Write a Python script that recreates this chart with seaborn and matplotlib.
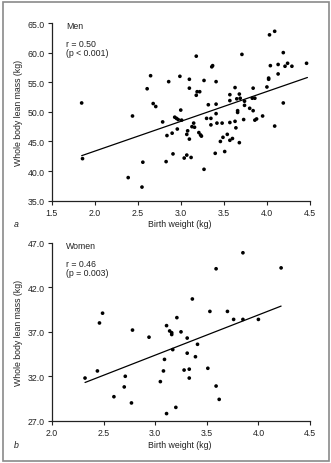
import matplotlib
matplotlib.use("Agg")
import matplotlib.pyplot as plt
import seaborn as sns
import pandas as pd
from matplotlib.patches import Rectangle

# ---- Data ----
men_birth_weight = [1.85, 1.86, 2.39, 2.44, 2.55, 2.56, 2.61, 2.65, 2.68, 2.71,
                    2.79, 2.83, 2.84, 2.86, 2.90, 2.91, 2.93, 2.95, 2.97, 2.96,
                    2.99, 3.00, 3.01, 3.04, 3.07, 3.07, 3.08, 3.10, 3.10, 3.10,
                    3.12, 3.13, 3.15, 3.16, 3.18, 3.18, 3.19, 3.22, 3.21, 3.23,
                    3.24, 3.27, 3.27, 3.30, 3.32, 3.35, 3.35, 3.36, 3.37, 3.40,
                    3.41, 3.41, 3.41, 3.42, 3.46, 3.48, 3.49, 3.51, 3.54, 3.57,
                    3.57, 3.57, 3.57, 3.60, 3.63, 3.63, 3.64, 3.65, 3.66, 3.66,
                    3.68, 3.69, 3.68, 3.71, 3.73, 3.74, 3.74, 3.80, 3.84, 3.83,
                    3.86, 3.84, 3.86, 3.88, 3.95, 4.00, 4.02, 4.02, 4.03, 4.04,
                    4.09, 4.09, 4.13, 4.13, 4.19, 4.19, 4.21, 4.24, 4.29, 4.46]
men_lean_mass = [51.5, 42.1, 38.9, 49.3, 37.3, 41.5, 53.9, 56.1, 51.4, 50.9,
                 48.3, 41.6, 46.0, 55.1, 46.4, 42.9, 49.1, 48.9, 48.7, 47.1,
                 56.0, 50.3, 48.6, 42.2, 42.7, 46.2, 46.8, 45.4, 55.5, 54.0,
                 42.3, 47.5, 48.1, 47.4, 59.4, 52.8, 53.4, 53.4, 46.5, 46.1,
                 45.9, 55.3, 40.3, 48.9, 51.2, 48.9, 47.8, 57.6, 57.8, 43.0,
                 55.1, 51.3, 49.7, 48.1, 45.0, 48.1, 45.7, 43.3, 46.2, 52.9,
                 51.9, 48.2, 45.2, 45.5, 54.1, 48.4, 47.3, 52.2, 50.2, 49.9,
                 53.0, 52.3, 44.8, 59.7, 48.7, 51.8, 51.1, 50.6, 54.0, 52.3,
                 52.3, 50.2, 48.6, 48.8, 49.3, 54.2, 55.7, 55.5, 63.0, 57.8,
                 63.6, 47.6, 56.4, 58.0, 60.0, 51.5, 57.7, 58.2, 57.7, 58.2]
men_fit_x = [1.85, 4.47]
men_fit_y = [42.6, 55.8]

women_birth_weight = [2.32, 2.44, 2.46, 2.49, 2.60, 2.70, 2.71, 2.77, 2.78, 2.94,
                      3.05, 3.08, 3.09, 3.11, 3.11, 3.14, 3.16, 3.16, 3.17, 3.20,
                      3.21, 3.25, 3.28, 3.31, 3.31, 3.33, 3.33, 3.36, 3.39, 3.41,
                      3.51, 3.53, 3.59, 3.59, 3.62, 3.70, 3.76, 3.85, 3.85, 4.00,
                      4.22]
women_lean_mass = [31.8, 32.6, 38.0, 39.1, 29.7, 30.8, 32.0, 29.0, 37.2, 36.4,
                   31.4, 32.6, 33.9, 37.7, 27.8, 37.1, 36.9, 36.7, 35.0, 28.5,
                   38.6, 37.0, 32.7, 36.3, 34.6, 32.8, 31.8, 40.7, 34.2, 35.6,
                   32.9, 39.3, 44.1, 30.9, 29.4, 39.3, 38.4, 38.4, 45.9, 38.4,
                   44.2]
women_fit_x = [2.32, 4.22]
women_fit_y = [31.3, 39.9]

men_yticks = [35.0, 40.0, 45.0, 50.0, 55.0, 60.0, 65.0]
men_xticks = [1.5, 2.0, 2.5, 3.0, 3.5, 4.0, 4.5]
women_yticks = [27.0, 32.0, 37.0, 42.0, 47.0]
women_xticks = [2.0, 2.5, 3.0, 3.5, 4.0, 4.5]

# ---- Style ----
sns.set_style("ticks")
plt.rcParams['font.family'] = ['Liberation Sans', 'DejaVu Sans']
FS = 6.3

W, H = 331, 464
fig = plt.figure(figsize=(W / 100, H / 100), dpi=100)

def px_rect(left, top, right, bottom):
    return [left / W, 1 - bottom / H, (right - left) / W, (bottom - top) / H]

ax1 = fig.add_axes(px_rect(51.5, 24, 310, 201.7))
ax2 = fig.add_axes(px_rect(52, 244, 310, 421.7))

def draw(ax, bx, ly, fx, fy, xticks, yticks, title, rtxt, ptxt):
    df = pd.DataFrame({"bw": bx, "lm": ly})
    sns.scatterplot(data=df, x="bw", y="lm", ax=ax, color="black", s=7,
                    edgecolor="none", linewidth=0)
    fit = pd.DataFrame({"bw": fx, "lm": fy})
    sns.lineplot(data=fit, x="bw", y="lm", ax=ax, color="black", linewidth=0.9)
    ax.set_xlim(xticks[0], xticks[-1])
    ax.set_ylim(yticks[0], yticks[-1])
    ax.set_xticks(xticks)
    ax.set_yticks(yticks)
    ax.set_xticklabels([f"{t:.1f}" for t in xticks])
    ax.set_yticklabels([f"{t:.1f}" for t in yticks])
    ax.set_xlabel("")
    ax.set_ylabel("")
    for s in ["top", "right"]:
        ax.spines[s].set_visible(False)
    for s in ["left", "bottom"]:
        ax.spines[s].set_linewidth(0.9)
        ax.spines[s].set_color("#222222")
    ax.tick_params(axis="both", length=3, width=0.8, pad=2, labelsize=FS,
                   colors="#222222")
    ax.text(0.056, 0.985, title, transform=ax.transAxes, fontsize=FS,
            va="center", ha="left", color="#222222")
    ax.text(0.056, 0.885, rtxt, transform=ax.transAxes, fontsize=FS,
            va="center", ha="left", color="#222222")
    ax.text(0.056, 0.835, ptxt, transform=ax.transAxes, fontsize=FS,
            va="center", ha="left", color="#222222")

draw(ax1, men_birth_weight, men_lean_mass, men_fit_x, men_fit_y,
     men_xticks, men_yticks, "Men", "r = 0.50", "(p < 0.001)")
draw(ax2, women_birth_weight, women_lean_mass, women_fit_x, women_fit_y,
     women_xticks, women_yticks, "Women", "r = 0.46", "(p = 0.003)")

def ftext(x, y, s, **kw):
    fig.text(x / W, 1 - y / H, s, fontsize=FS, color="#222222", **kw)

ftext(180, 224.7, "Birth weight (kg)", ha="center", va="center")
ftext(180, 445.3, "Birth weight (kg)", ha="center", va="center")
ftext(16, 224.7, "a", ha="center", va="center", style="italic")
ftext(16, 445.3, "b", ha="center", va="center", style="italic")
ftext(18.5, 113, "Whole body lean mass (kg)", ha="center", va="center", rotation=90)
ftext(18.5, 333, "Whole body lean mass (kg)", ha="center", va="center", rotation=90)

# outer frame
fig.patches.append(Rectangle((2.5 / W, 2.5 / H), (W - 5) / W, (H - 5) / H,
                             transform=fig.transFigure, fill=False,
                             edgecolor="#8a8a8a", linewidth=1.2))

fig.savefig("out.png", dpi=100)
